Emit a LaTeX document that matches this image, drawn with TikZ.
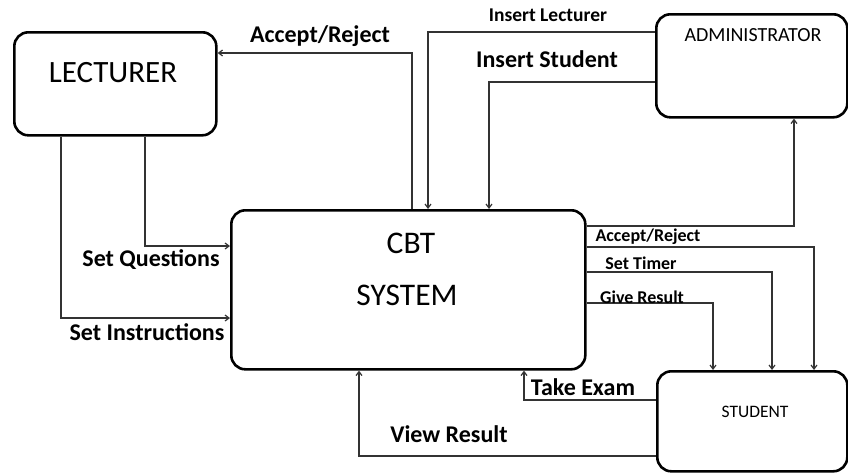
\documentclass[tikz,border=0pt]{standalone}
\usepackage{fontspec}
\setmainfont{Carlito}
\usetikzlibrary{arrows.meta}
\tikzset{
  ent/.style={draw=black, line width=2.6pt, rounded corners=14pt, anchor=north west, inner sep=0pt},
  etext/.style={inner sep=0pt, font=\fontsize{#1}{#1}\selectfont},
  lab/.style={inner sep=0pt, font=\bfseries\fontsize{#1}{#1}\selectfont},
  flow/.style={draw=black!80, line width=1.2pt, -{Straight Barb[length=4pt,width=6pt]}},
  plain/.style={draw=black!80, line width=1.2pt}
}
\begin{document}
\begin{tikzpicture}[x=1pt,y=-1pt]
\useasboundingbox (0,0) rectangle (848,472);
% entities
\node[ent, minimum width=202pt, minimum height=103pt] (lect) at (13,31) {};
\node[ent, minimum width=191pt, minimum height=103pt] (admin) at (655,13) {};
\node[ent, minimum width=354pt, minimum height=159pt] (cbt) at (230,209) {};
\node[ent, minimum width=190pt, minimum height=100pt] (stud) at (656,370) {};
\node[etext=31] (lectT) at (113,73) {LECTURER};
\node[etext=20] (adminT) at (753,35) {ADMINISTRATOR};
\node[etext=31.5] (cbtT1) at (411,243) {CBT};
\node[etext=31.5] (cbtT2) at (407,295) {SYSTEM};
\node[etext=17.5] (studT) at (755,412) {STUDENT};
% routing coordinates
\coordinate (pAR) at (412,53);
\coordinate (pIL) at (428,32);
\coordinate (pIS) at (489,82);
\coordinate (pAA) at (794,226);
\coordinate (pSA) at (814,247);
\coordinate (pST) at (772,272);
\coordinate (pGR) at (713,303);
\coordinate (pTE) at (524,400);
\coordinate (pVR) at (359,456);
\coordinate (pSQ) at (145,246);
\coordinate (pSI) at (61,318);
% connectors
\draw[flow] (cbt.north -| pAR) |- (lect.east |- pAR);
\draw[flow] (admin.west |- pIL) -| (cbt.north -| pIL);
\draw[flow] (admin.west |- pIS) -| (cbt.north -| pIS);
\draw[flow] (cbt.east |- pAA) -| (admin.south -| pAA);
\draw[flow] (cbt.east |- pSA) -| (stud.north -| pSA);
\draw[flow] (cbt.east |- pST) -| (stud.north -| pST);
\draw[flow] (cbt.east |- pGR) -| (stud.north -| pGR);
\draw[flow] (stud.west |- pTE) -| (cbt.south -| pTE);
\draw[flow] (stud.west |- pVR) -| (cbt.south -| pVR);
\draw[flow] (lect.south -| pSQ) |- (cbt.west |- pSQ);
\draw[flow] (lect.south -| pSI) |- (cbt.west |- pSI);
% labels
\node[lab=24] (lAR) at (320,36) {Accept/Reject};
\node[lab=19.5] (lIL) at (548,15) {Insert Lecturer};
\node[lab=24] (lIS) at (547,59) {Insert Student};
\node[lab=18] (lSA) at (648,237) {Accept/Reject};
\node[lab=18] (lST) at (641,263) {Set Timer};
\node[lab=18] (lGR) at (642,297) {Give Result};
\node[lab=24] (lTE) at (583,387) {Take Exam};
\node[lab=24] (lVR) at (449,434) {View Result};
\node[lab=24] (lSQ) at (151,260) {Set Questions};
\node[lab=24] (lSI) at (147,332) {Set Instructions};
\end{tikzpicture}
\end{document}
